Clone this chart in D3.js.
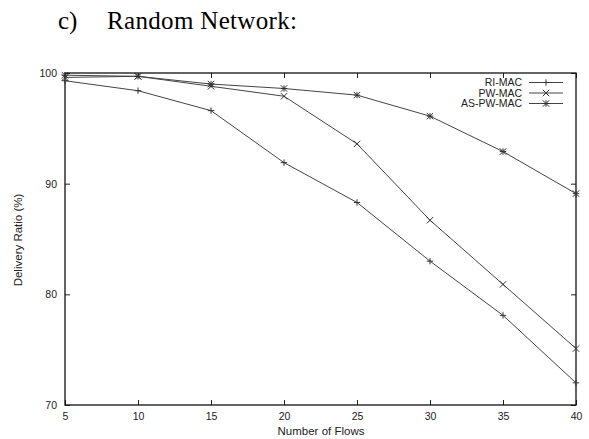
<!DOCTYPE html>
<html>
<head>
<meta charset="utf-8">
<script src="https://cdn.jsdelivr.net/npm/d3@7"></script>
<style>
  body { margin: 0; background: #fff; }
  svg { display: block; }
</style>
</head>
<body>
<svg width="589" height="439"></svg>
<script>
// data
var flows = [5, 10, 15, 20, 25, 30, 35, 40];
var riMac = [99.3, 98.4, 96.6, 91.9, 88.3, 83.0, 78.1, 72.0];
var pwMac = [99.6, 99.7, 98.8, 97.9, 93.6, 86.7, 80.9, 75.1];
var asPwMac = [99.8, 99.7, 99.0, 98.6, 98.0, 96.1, 92.9, 89.1];
var seriesNames = ["RI-MAC", "PW-MAC", "AS-PW-MAC"];
var xTicks = [5, 10, 15, 20, 25, 30, 35, 40];
var yTicks = [70, 80, 90, 100];

var svg = d3.select("svg");
var box = {left: 65, right: 576, top: 73, bottom: 405};

var x = d3.scaleLinear().domain([5, 40]).range([box.left, box.right]);
var y = d3.scaleLinear().domain([70, 100]).range([box.bottom, box.top]);

// heading
var serif = "'Liberation Serif', 'Times New Roman', serif";
svg.append("text")
  .attr("x", 58).attr("y", 29)
  .style("font-family", serif)
  .style("font-size", "25px")
  .text("c)");
svg.append("text")
  .attr("x", 107).attr("y", 29)
  .style("font-family", serif)
  .style("font-size", "25px")
  .attr("textLength", 190)
  .text("Random Network:");

var tickLen = 5;
var axisFont = "'Liberation Sans', Arial, sans-serif";

// axes with inward ticks (gnuplot style, mirrored)
var bottomAxis = d3.axisBottom(x).tickValues(xTicks).tickSizeInner(-tickLen).tickSizeOuter(0).tickPadding(8);
var topAxis = d3.axisTop(x).tickValues(xTicks).tickSizeInner(-tickLen).tickSizeOuter(0).tickFormat("");
var leftAxis = d3.axisLeft(y).tickValues(yTicks).tickSizeInner(-tickLen).tickSizeOuter(0).tickPadding(8);
var rightAxis = d3.axisRight(y).tickValues(yTicks).tickSizeInner(-tickLen).tickSizeOuter(0).tickFormat("");

function styleAxis(g) {
  g.select(".domain").remove();
  g.selectAll("line").attr("stroke", "#222").attr("stroke-width", 1);
  g.selectAll("text").style("font-family", axisFont).style("font-size", "10.5px").attr("fill", "#222");
}

svg.append("g").attr("transform", "translate(0," + box.bottom + ")").call(bottomAxis).call(styleAxis);
svg.append("g").attr("transform", "translate(0," + box.top + ")").call(topAxis).call(styleAxis);
svg.append("g").attr("transform", "translate(" + box.left + ",0)").call(leftAxis).call(styleAxis);
svg.append("g").attr("transform", "translate(" + box.right + ",0)").call(rightAxis).call(styleAxis);

svg.append("rect")
  .attr("x", box.left).attr("y", box.top)
  .attr("width", box.right - box.left).attr("height", box.bottom - box.top)
  .attr("fill", "none").attr("stroke", "#111").attr("stroke-width", 1.3);

// axis titles
svg.append("text")
  .attr("x", 321).attr("y", 435)
  .attr("text-anchor", "middle")
  .style("font-family", axisFont).style("font-size", "11.5px").attr("fill", "#222")
  .text("Number of Flows");
svg.append("text")
  .attr("transform", "translate(22," + 240 + ") rotate(-90)")
  .attr("text-anchor", "middle")
  .style("font-family", axisFont).style("font-size", "11.5px").attr("fill", "#222")
  .text("Delivery Ratio (%)");

// markers
var ms = 3.2;
function plus(g) {
  g.append("path").attr("d", "M" + (-ms) + ",0H" + ms + "M0," + (-ms) + "V" + ms);
}
function cross(g) {
  g.append("path").attr("d", "M" + (-ms) + "," + (-ms) + "L" + ms + "," + ms + "M" + (-ms) + "," + ms + "L" + ms + "," + (-ms));
}
function star(g) { plus(g); cross(g); }
var markers = [plus, cross, star];
var allSeries = [riMac, pwMac, asPwMac];

var line = d3.line()
  .x(function(d, i) { return x(flows[i]); })
  .y(function(d) { return y(d); });

allSeries.forEach(function(vals, s) {
  svg.append("path")
    .datum(vals)
    .attr("d", line)
    .attr("fill", "none")
    .attr("stroke", "#444")
    .attr("stroke-width", 1);
  vals.forEach(function(v, i) {
    var g = svg.append("g")
      .attr("transform", "translate(" + x(flows[i]) + "," + y(v) + ")")
      .attr("stroke", "#333").attr("stroke-width", 1).attr("fill", "none");
    markers[s](g);
  });
});

// legend
var legend = svg.append("g");
seriesNames.forEach(function(name, s) {
  var ly = 82.5 + s * 10.5;
  legend.append("text")
    .attr("x", 522).attr("y", ly + 3.7)
    .attr("text-anchor", "end")
    .style("font-family", axisFont).style("font-size", "10.5px").attr("fill", "#222")
    .text(name);
  legend.append("line")
    .attr("x1", 529).attr("x2", 563).attr("y1", ly).attr("y2", ly)
    .attr("stroke", "#444").attr("stroke-width", 1);
  var g = legend.append("g")
    .attr("transform", "translate(546," + ly + ")")
    .attr("stroke", "#333").attr("stroke-width", 1).attr("fill", "none");
  markers[s](g);
});
</script>
</body>
</html>
